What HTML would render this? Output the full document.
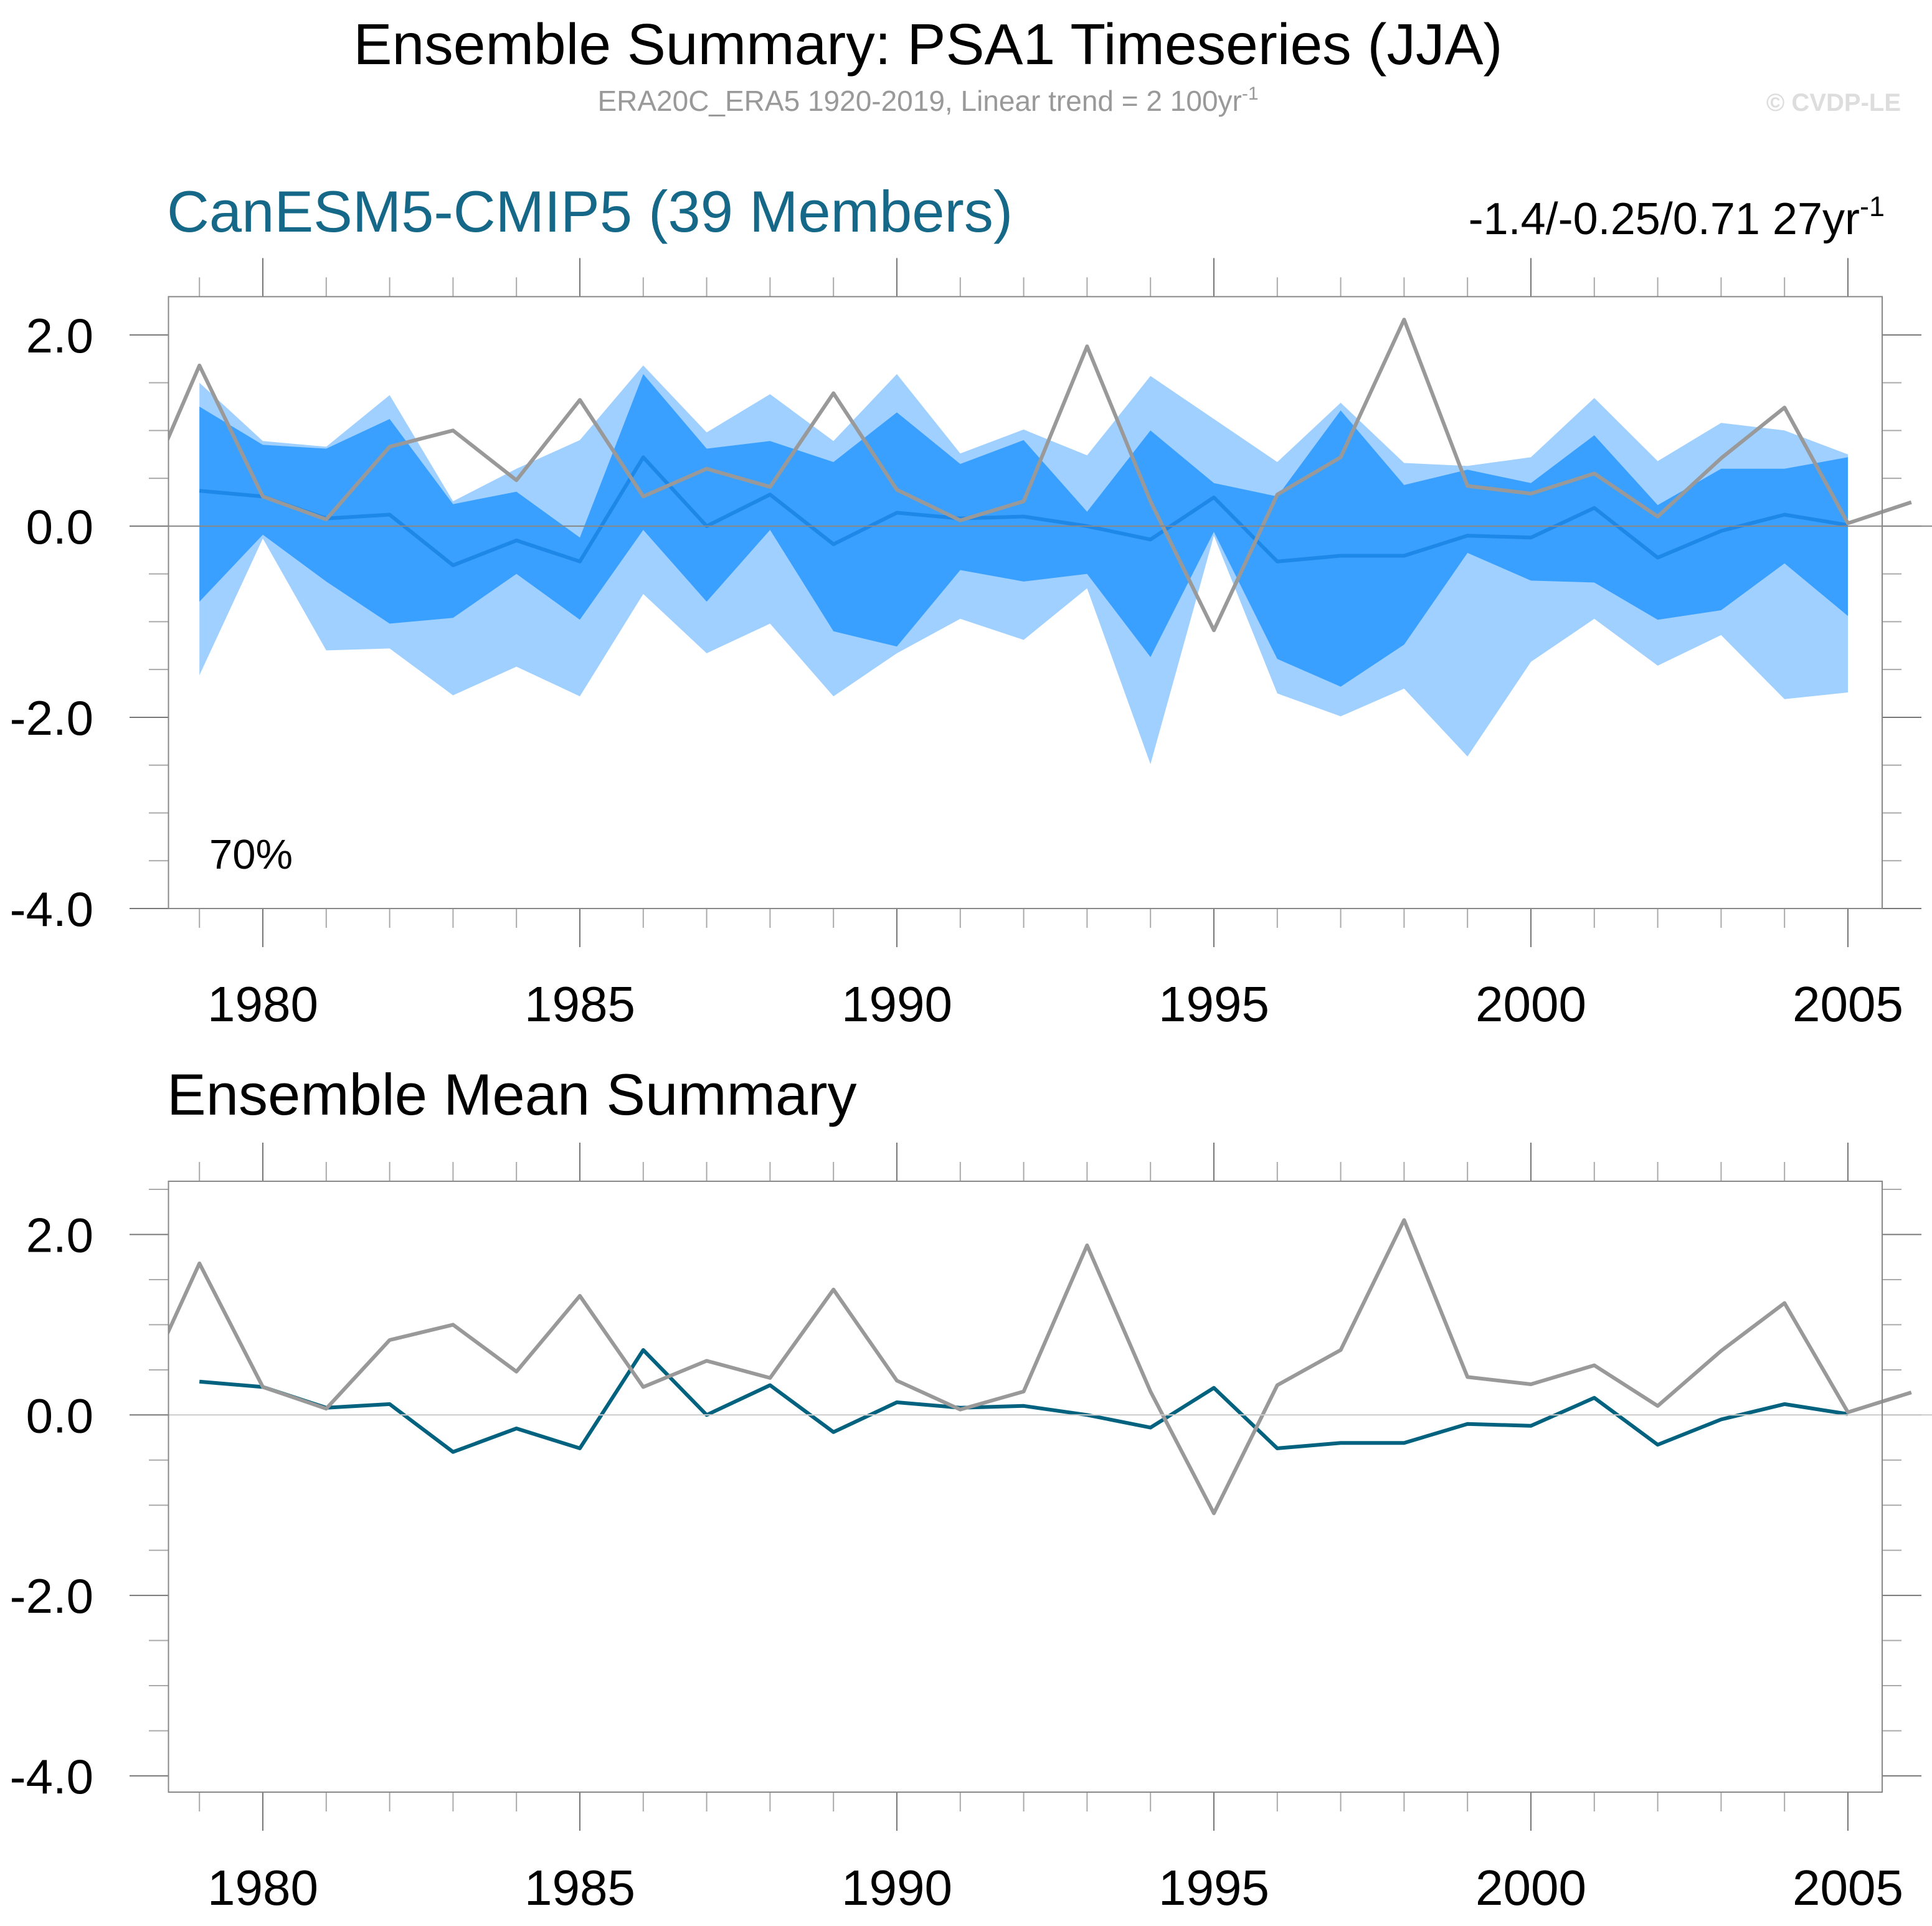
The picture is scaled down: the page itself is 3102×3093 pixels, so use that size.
<!DOCTYPE html>
<html><head><meta charset="utf-8"><style>
html,body{margin:0;padding:0;background:#fff;}
svg{display:block;font-family:"Liberation Sans",sans-serif;}
</style></head><body>
<svg id="chart" width="3102" height="3093" viewBox="0 0 3102 3093" xmlns="http://www.w3.org/2000/svg">
<text x="1490" y="103" font-size="93" text-anchor="middle" fill="#000">Ensemble Summary: PSA1 Timeseries (JJA)</text>
<text x="1490" y="178" font-size="46" text-anchor="middle" fill="#999">ERA20C_ERA5 1920-2019, Linear trend = 2 100yr<tspan dy="-18" font-size="30">-1</tspan></text>
<text x="3052" y="178" font-size="40" font-weight="bold" text-anchor="end" fill="#ddd">© CVDP-LE</text>
<text x="268" y="372" font-size="94" fill="#156887">CanESM5-CMIP5 (39 Members)</text>
<text x="3026" y="376" font-size="72" text-anchor="end" fill="#000">-1.4/-0.25/0.71 27yr<tspan dy="-29" font-size="45">-1</tspan></text>
<text x="336" y="1395" font-size="67" fill="#000">70%</text>
<text x="268" y="1790" font-size="94" fill="#000">Ensemble Mean Summary</text>
<g id="top"></g>
<g id="bottom"></g>
</svg>
<script>
const years = [1979,1980,1981,1982,1983,1984,1985,1986,1987,1988,1989,1990,1991,1992,1993,1994,1995,1996,1997,1998,1999,2000,2001,2002,2003,2004,2005];
const obsYears = [1978,1979,1980,1981,1982,1983,1984,1985,1986,1987,1988,1989,1990,1991,1992,1993,1994,1995,1996,1997,1998,1999,2000,2001,2002,2003,2004,2005,2006];
const obsValues = [0.14,1.68,0.31,0.07,0.83,1.0,0.48,1.32,0.31,0.6,0.41,1.39,0.38,0.06,0.26,1.88,0.26,-1.09,0.33,0.72,2.16,0.42,0.34,0.55,0.1,0.71,1.24,0.03,0.25];
const ensMean = [0.37,0.31,0.08,0.12,-0.41,-0.15,-0.37,0.72,0.0,0.33,-0.19,0.14,0.08,0.1,0.0,-0.14,0.3,-0.37,-0.31,-0.31,-0.1,-0.12,0.19,-0.33,-0.05,0.12,0.01];
const lightTop = [1.5,0.89,0.83,1.37,0.26,0.6,0.9,1.68,0.98,1.38,0.89,1.59,0.76,1.01,0.74,1.57,1.12,0.67,1.29,0.66,0.63,0.72,1.34,0.68,1.08,1.0,0.75];
const darkTop = [1.25,0.85,0.81,1.12,0.23,0.36,-0.12,1.59,0.81,0.89,0.67,1.19,0.65,0.9,0.15,1.0,0.45,0.31,1.21,0.43,0.59,0.45,0.95,0.22,0.6,0.6,0.72];
const darkBot = [-0.79,-0.09,-0.58,-1.02,-0.96,-0.5,-0.98,-0.04,-0.79,-0.04,-1.1,-1.26,-0.46,-0.58,-0.5,-1.37,-0.06,-1.39,-1.68,-1.24,-0.28,-0.57,-0.59,-0.98,-0.88,-0.39,-0.94];
const lightBot = [-1.56,-0.13,-1.3,-1.28,-1.77,-1.47,-1.78,-0.71,-1.33,-1.02,-1.78,-1.33,-0.97,-1.19,-0.65,-2.49,-0.1,-1.75,-1.99,-1.7,-2.41,-1.42,-0.97,-1.46,-1.14,-1.81,-1.74];
const yTickLabels = ["2.0","0.0","-2.0","-4.0"];
const yTickValues = [2,0,-2,-4];
const xTickLabels = ["1980","1985","1990","1995","2000","2005"];
const xTickValues = [1980,1985,1990,1995,2000,2005];

const NS="http://www.w3.org/2000/svg";
const X0=270.5,X1=3022;
function xs(yr){return 422+(yr-1980)*101.8;}
function mk(tag,attrs,parent){const e=document.createElementNS(NS,tag);for(const k in attrs)e.setAttribute(k,attrs[k]);parent.appendChild(e);return e;}
function pts(xv,yv,ys){return xv.map((v,i)=>xs(v).toFixed(1)+","+ys(yv[i]).toFixed(1)).join(" ");}

function panel(g,top,bot,vTop,vBot,isTop,prefix){
  const ys=v=>top+(vTop-v)*(bot-top)/(vTop-vBot);
  const cid=prefix+"clip";
  const cp=mk("clipPath",{id:cid},g);
  mk("rect",{x:X0,y:top,width:3082-X0,height:bot-top},cp);
  for(let v=Math.floor(vTop*2)/2; v>=vBot-1e-6; v-=0.5){
    const maj=Math.abs(v/2-Math.round(v/2))<1e-6;
    const y=ys(v);
    const L=mk("line",{x1:maj?208:239,x2:X0,y1:y,y2:y,stroke:maj?"#777":"#aaa","stroke-width":2},g);
    
    
    const R=mk("line",{x1:X1,x2:maj?3085:3053,y1:y,y2:y,stroke:maj?"#777":"#aaa","stroke-width":2},g);
    
    
  }
  for(let yr=1979;yr<=2005;yr++){
    const maj=yr%5===0, x=xs(yr);
    const T=mk("line",{x1:x,x2:x,y1:top-(maj?62:31),y2:top,stroke:maj?"#777":"#aaa","stroke-width":2},g);
    
    
    const B=mk("line",{x1:x,x2:x,y1:bot,y2:bot+(maj?62:31),stroke:maj?"#777":"#aaa","stroke-width":2},g);
    
    
  }
  yTickValues.forEach((v,i)=>{
    const t=mk("text",{x:150,y:ys(v)+28,"font-size":78,"text-anchor":"end",fill:"#000"},g);
    t.textContent=yTickLabels[i];
    
    
  });
  xTickValues.forEach((v,i)=>{
    const t=mk("text",{x:xs(v),y:bot+181,"font-size":80,"text-anchor":"middle",fill:"#000"},g);
    t.textContent=xTickLabels[i];
    
    
  });
  const data=mk("g",{"clip-path":"url(#"+cid+")"},g);
  if(isTop){
    const rev=a=>a.slice().reverse();
    const light=mk("polygon",{points:pts(years,lightTop,ys)+" "+pts(rev(years),rev(lightBot),ys),fill:"#a0d0ff"},data);
    
    
    const dark=mk("polygon",{points:pts(years,darkTop,ys)+" "+pts(rev(years),rev(darkBot),ys),fill:"#3aa0ff"},data);
    
    
  }
  const z=mk("line",{x1:X0,x2:3102,y1:ys(0),y2:ys(0),stroke:isTop?"#888":"#ccc","stroke-width":2},g);
  
  
  const frame=mk("rect",{x:X0,y:top,width:X1-X0,height:bot-top,fill:"none",stroke:"#888","stroke-width":2},g);
  
  
  const m=mk("polyline",{points:pts(years,ensMean,ys),fill:"none",stroke:isTop?"#1e88e8":"#00627f","stroke-width":6,"stroke-linejoin":"round"},data);
  
  
  const o=mk("polyline",{points:pts(obsYears,obsValues,ys),fill:"none",stroke:"#999","stroke-width":6,"stroke-linejoin":"round"},data);
  
  
}
const gt=document.getElementById("top");


const gb=document.getElementById("bottom");


panel(gt,476.4,1459,2.4,-4.0,true,"t");
panel(gb,1897,2878,2.59,-4.18,false,"b");
</script>
</body></html>
